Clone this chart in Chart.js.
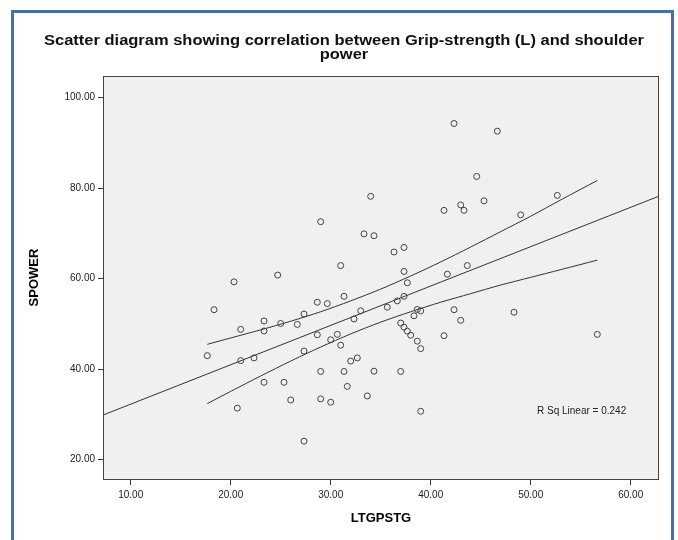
<!DOCTYPE html>
<html lang="en">
<head>
<meta charset="UTF-8">
<title>Scatter diagram</title>
<style>
    html, body { margin: 0; padding: 0; background: #fff; }
    #wrap { position: relative; width: 678px; height: 540px; overflow: hidden; }
    #frame { position: absolute; left: 11px; top: 10px; width: 663px; height: 560px;
             border: 3px solid #4472a8; box-sizing: border-box; }
    canvas { position: absolute; left: 0; top: 0; }
</style>
</head>
<body>
<div id="wrap">
    <div id="frame"></div>
    <canvas id="myChart" width="678" height="540"></canvas>
</div>
<script src="https://cdn.jsdelivr.net/npm/chart.js@4.4.0/dist/chart.umd.min.js"></script>
<script>
    // points: LTGPSTG (x) vs SPOWER (y)
    const ltgpstg = [20.33, 24.7, 42.33, 44.6, 34.0, 29.0, 41.33, 43.0, 43.33, 33.33,
        34.33, 36.33, 37.33, 31.0, 37.33, 41.66, 43.66, 37.66, 46.66, 45.33,
        52.66, 49.0, 18.33, 21.0, 23.33, 23.33, 25.0, 17.66, 21.0, 22.33,
        23.33, 25.33, 20.66, 28.66, 29.66, 31.33, 27.33, 26.66, 33.0, 32.33,
        35.66, 36.66, 37.33, 38.66, 39.0, 38.33, 42.33, 43.0, 41.33, 28.66,
        30.66, 30.0, 31.0, 27.33, 37.0, 37.33, 37.66, 38.0, 38.66, 39.0,
        32.66, 32.0, 29.0, 31.33, 34.33, 37.0, 31.66, 26.0, 29.0, 30.0,
        33.66, 39.0, 27.33, 48.33, 56.66];
    const spower = [59.3, 60.8, 94.3, 82.6, 78.2, 72.6, 75.1, 76.3, 75.1, 69.9,
        69.5, 65.9, 66.9, 62.9, 61.6, 61.0, 62.9, 59.1, 92.6, 77.2,
        78.4, 74.1, 53.15, 48.8, 50.66, 48.45, 50.1, 43.0, 41.9, 42.5,
        37.1, 37.1, 31.4, 54.8, 54.5, 56.1, 52.2, 49.9, 52.9, 51.1,
        53.7, 55.1, 56.1, 53.2, 52.9, 51.8, 53.15, 50.8, 47.4, 47.6,
        47.7, 46.5, 45.3, 44.0, 50.2, 49.3, 48.4, 47.5, 46.2, 44.55,
        42.5, 41.8, 39.5, 39.5, 39.56, 39.5, 36.2, 33.2, 33.45, 32.7,
        34.1, 30.7, 24.1, 52.6, 47.7];

    // fit line (edge to edge) and its confidence band, as read
    const fitX = [7.23, 62.83];
    const fitY = [29.87, 78.24];
    const bandX = [17.66, 20, 23, 26, 29, 32, 35, 38, 41, 44, 47, 50, 53, 56.66];
    const bandUpper = [45.5, 46.9, 48.7, 50.6, 52.7, 55.1, 57.7, 60.6, 63.7, 67.0, 70.4, 73.8, 77.4, 81.7];
    const bandLower = [32.4, 35.1, 38.5, 41.8, 44.9, 47.8, 50.4, 52.7, 54.8, 56.7, 58.6, 60.3, 62.0, 64.1];

    const xTicks = [10, 20, 30, 40, 50, 60];
    const yTicks = [20, 40, 60, 80, 100];

    const titleLines = ['Scatter diagram showing correlation between Grip-strength (L) and shoulder', 'power'];
    const xTitle = 'LTGPSTG';
    const yTitle = 'SPOWER';
    const rsqText = 'R Sq Linear = 0.242';

    function zip(xs, ys) {
        return xs.map((x, i) => ({ x: x, y: ys[i] }));
    }

    const FONT = '"Liberation Sans", Arial, sans-serif';
    Chart.defaults.font.family = FONT;

    const decor = {
        id: 'decor',
        beforeDatasetsDraw(chart) {
            const a = chart.chartArea, c = chart.ctx;
            c.save();
            c.fillStyle = '#f0f0f0';
            c.fillRect(a.left, a.top, a.right - a.left, a.bottom - a.top);
            c.restore();
        },
        afterDraw(chart) {
            const a = chart.chartArea, c = chart.ctx;
            c.save();
            c.strokeStyle = '#444';
            c.lineWidth = 1;
            c.strokeRect(a.left + 0.5, a.top + 0.5, a.right - a.left - 1, a.bottom - a.top);

            // title is a bit wider in the original, stretch it sideways
            c.fillStyle = '#111';
            c.textAlign = 'center';
            c.textBaseline = 'middle';
            c.font = 'bold 14px ' + FONT;
            const sx = 600 / c.measureText(titleLines[0]).width;
            c.save();
            c.translate(344, 0);
            c.scale(sx, 1);
            c.fillText(titleLines[0], 0, 41);
            c.fillText(titleLines[1], 0, 55);
            c.restore();

            c.fillStyle = '#000';
            c.font = 'bold 13px ' + FONT;
            c.fillText(xTitle, (a.left + a.right) / 2, 518);
            c.save();
            c.translate(34, (a.top + a.bottom) / 2);
            c.rotate(-Math.PI / 2);
            c.fillText(yTitle, 0, 0);
            c.restore();

            c.font = '10px ' + FONT;
            c.fillStyle = '#222';
            c.textAlign = 'left';
            c.fillText(rsqText, 537, 411);
            c.restore();
        }
    };

    const lineStyle = { showLine: true, pointRadius: 0, borderColor: '#333', borderWidth: 1, fill: false };

    new Chart(document.getElementById('myChart').getContext('2d'), {
        type: 'scatter',
        data: {
            datasets: [
                { data: zip(ltgpstg, spower), pointStyle: 'circle', pointRadius: 3,
                  backgroundColor: 'rgba(0,0,0,0)', borderColor: '#444', borderWidth: 1 },
                Object.assign({ data: zip(fitX, fitY) }, lineStyle),
                Object.assign({ data: zip(bandX, bandUpper), tension: 0.3 }, lineStyle),
                Object.assign({ data: zip(bandX, bandLower), tension: 0.3 }, lineStyle)
            ]
        },
        options: {
            responsive: false,
            animation: false,
            layout: { padding: { top: 76, right: 19, left: 0, bottom: 0 } },
            plugins: { legend: { display: false }, tooltip: { enabled: false }, title: { display: false } },
            scales: {
                x: {
                    type: 'linear', min: 7.23, max: 62.83,
                    afterBuildTicks: s => { s.ticks = xTicks.map(v => ({ value: v })); },
                    afterFit: s => { s.height = 61; },
                    grid: { drawOnChartArea: false, drawTicks: true, tickLength: 6, tickColor: '#333' },
                    border: { display: false },
                    ticks: { padding: 4, color: '#222', font: { size: 10 }, maxRotation: 0,
                             callback: v => v.toFixed(2) }
                },
                y: {
                    type: 'linear', min: 15.74, max: 104.79,
                    afterBuildTicks: s => { s.ticks = yTicks.map(v => ({ value: v })); },
                    afterFit: s => { s.width = 103; },
                    grid: { drawOnChartArea: false, drawTicks: true, tickLength: 5, tickColor: '#333' },
                    border: { display: false },
                    ticks: { padding: 3, color: '#222', font: { size: 10 },
                             callback: v => v.toFixed(2) }
                }
            }
        },
        plugins: [decor]
    });
</script>
</body>
</html>
